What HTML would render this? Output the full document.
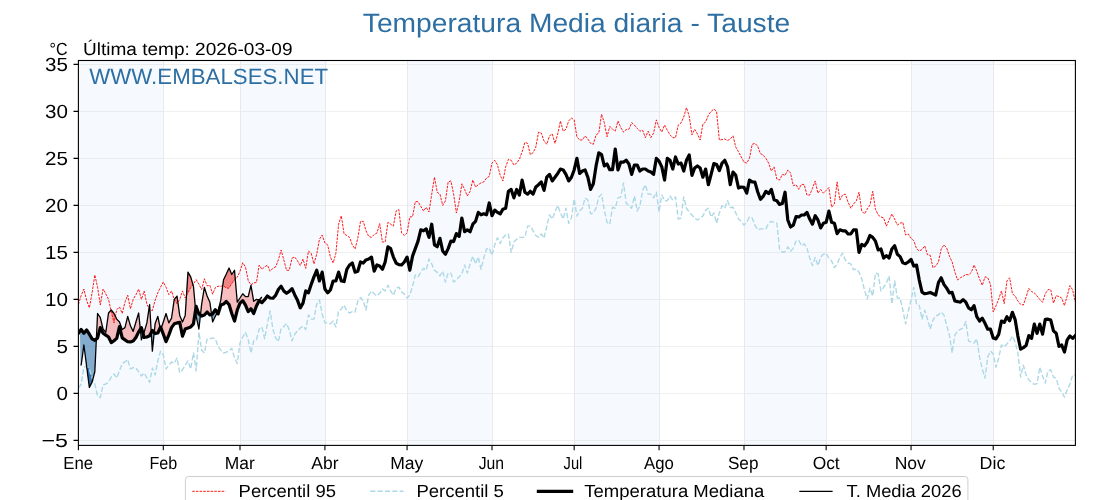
<!DOCTYPE html><html><head><meta charset="utf-8"><title>Temperatura Media diaria - Tauste</title>
<style>html,body{margin:0;padding:0;background:#fff}svg{display:block;will-change:transform}text{font-family:"Liberation Sans",sans-serif;text-rendering:geometricPrecision}</style></head><body>
<svg width="1120" height="500" viewBox="0 0 1120 500">
<rect width="1120" height="500" fill="#fff"/>
<rect x="78.4" y="60.5" width="84.91" height="384.9" fill="#f6fafe"/>
<rect x="240" y="60.5" width="84.91" height="384.9" fill="#f6fafe"/>
<rect x="407.08" y="60.5" width="84.91" height="384.9" fill="#f6fafe"/>
<rect x="574.16" y="60.5" width="84.91" height="384.9" fill="#f6fafe"/>
<rect x="743.98" y="60.5" width="82.17" height="384.9" fill="#f6fafe"/>
<rect x="911.06" y="60.5" width="82.17" height="384.9" fill="#f6fafe"/>
<path d="M78.4,440.5H1075.4 M78.4,393.5H1075.4 M78.4,346.5H1075.4 M78.4,299.5H1075.4 M78.4,252.5H1075.4 M78.4,205.5H1075.4 M78.4,158.5H1075.4 M78.4,111.5H1075.4 M78.4,64.5H1075.4" stroke="#b0b0b0" stroke-opacity="0.19" stroke-width="1" fill="none"/>
<path d="M163.5,60.5V445.4 M240.5,60.5V445.4 M325.5,60.5V445.4 M407.5,60.5V445.4 M492.5,60.5V445.4 M574.5,60.5V445.4 M659.5,60.5V445.4 M744.5,60.5V445.4 M826.5,60.5V445.4 M911.5,60.5V445.4 M993.5,60.5V445.4" stroke="#e7e9ee" stroke-width="1" fill="none"/>
<clipPath id="c"><rect x="78.4" y="60.5" width="997" height="384.9"/></clipPath>
<g clip-path="url(#c)" fill="none" stroke-linejoin="round">
<path d="M96.38,338.97 L97.57,313.5 L100.31,317.54 L103.05,329.01 L105.79,332.3 L108.53,313.03 L111.27,310.02 L114.01,313.5 L116.75,319.14 L119.49,321.96 L122.22,329.48 L124.96,327.6 L127.7,316.32 L130.44,325.72 L133.18,331.36 L135.92,321.96 L138.66,313.03 L140.32,329.27 L140.32,329.27 L138.66,331.83 L135.92,337.47 L133.18,341.04 L130.44,341.98 L127.7,341.7 L124.96,339.82 L122.22,337.94 L119.49,326.66 L116.75,338.41 L114.01,340.76 L111.27,342.64 L108.53,337 L105.79,335.12 L103.05,333.24 L100.31,327.6 L97.57,337.94 L96.38,338.97Z M143.32,334.54 L144.14,332.3 L146.88,322.9 L149.61,304.57 L151.26,332.56 L151.26,332.56 L149.61,335.78 L146.88,337 L144.14,337.47 L143.32,334.54Z M154.22,332.53 L155.09,323.84 L157.83,316.32 L160.16,327.92 L160.16,327.92 L157.83,332.96 L155.09,333.52 L154.22,332.53Z M161.1,328.41 L163.31,321.96 L166.05,313.5 L168.79,322.9 L171.53,318.2 L174.26,299.4 L177,296.11 L179.74,315.38 L182.48,321.96 L185.22,315.38 L187.96,272.14 L190.7,276.84 L193.44,286.24 L195.61,310.07 L195.61,310.07 L193.44,323.84 L190.7,327.04 L187.96,327.98 L185.22,329.01 L182.48,336.06 L179.74,322.43 L177,322.9 L174.26,323.84 L171.53,327.6 L168.79,335.12 L166.05,341.7 L163.31,334.18 L161.1,328.41Z M200.44,315.12 L201.66,304.1 L204.39,287.46 L207.13,296.02 L209.87,302.22 L211.56,314.37 L211.56,314.37 L209.87,315 L207.13,312 L204.39,315 L201.66,316.04 L200.44,315.12Z M217.23,312.64 L218.09,310.96 L220.83,299.96 L223.57,279.66 L226.31,274.02 L229.04,268 L231.78,274.49 L234.52,270.26 L237.26,302.22 L240,297.99 L242.74,293.76 L245.48,296.58 L248.22,296.58 L250.96,285.3 L253.7,301.28 L256.44,299.4 L259.17,299.96 L261.91,296.96 L261.91,302.69 L259.17,300.62 L256.44,305.98 L253.7,313.5 L250.96,308.8 L248.22,311.62 L245.48,305.04 L242.74,300.62 L240,303.16 L237.26,310.02 L234.52,321.02 L231.78,313.5 L229.04,304.57 L226.31,301.47 L223.57,304.1 L220.83,305.04 L218.09,313.97 L217.23,312.64Z" fill="#f08080" fill-opacity="0.5" stroke="none"/>
<path d="M79.91,331.17 L81.14,329.48 L83.88,333.24 L86.62,329.95 L89.36,334.18 L92.09,338.88 L94.83,340.29 L96.38,338.97 L96.38,338.97 L94.83,371.78 L92.09,382.12 L89.36,387.48 L86.62,366.14 L83.88,344.99 L81.14,365.48 L80.59,365.48Z M140.32,329.27 L141.4,327.6 L143.32,334.54 L143.32,334.54 L141.4,339.82 L140.32,329.27Z M151.26,332.56 L152.35,330.42 L154.22,332.53 L154.22,332.53 L152.35,351.1 L151.26,332.56Z M160.16,327.92 L160.57,327.04 L161.1,328.41 L161.1,328.41 L160.57,329.95 L160.16,327.92Z M195.61,310.07 L196.18,306.45 L198.92,313.97 L200.44,315.12 L200.44,315.12 L198.92,329.01 L196.18,316.32 L195.61,310.07Z M211.56,314.37 L212.61,313.97 L215.35,309.74 L217.23,312.64 L217.23,312.64 L215.35,316.32 L212.61,321.96 L211.56,314.37Z" fill="#4682b4" fill-opacity="0.65" stroke="none"/>
<path d="M110.98,310.34 L111.27,310.02 L114.01,313.5 L115.38,316.32 L115.38,316.32 L114.01,322.9 L111.27,311.62 L110.98,310.34Z M149.02,308.52 L149.61,304.57 L149.92,309.85 L149.92,309.85 L149.61,309.74 L149.02,308.52Z M174.26,299.4 L177,296.11 L177.88,302.28 L177.88,302.28 L177,303.63 L174.26,299.4Z M186.47,295.63 L187.96,272.14 L190.7,276.84 L192.95,284.56 L192.95,284.56 L190.7,287.65 L187.96,292.82 L186.47,295.63Z M222.72,285.91 L223.57,279.66 L226.31,274.02 L229.04,268 L231.78,274.49 L234.52,270.26 L235.27,279.02 L235.27,279.02 L234.52,279.66 L231.78,283.42 L229.04,288.12 L226.31,288.12 L223.57,285.77 L222.72,285.91Z" fill="#f08585" stroke="none"/>
<path d="M86.62,366.14 L89.36,368.96 L92.09,377.98 L92.79,379.51 L92.79,379.51 L92.09,382.12 L89.36,387.48 L86.62,366.14Z" fill="#3673ae" stroke="none"/>
<path d="M78.4,304.57 L81.14,295.64 L83.88,289.06 L86.62,300.34 L89.36,307.86 L92.09,292.82 L94.83,274.96 L97.57,287.18 L100.31,305.04 L103.05,289.06 L105.79,293.76 L108.53,299.4 L111.27,311.62 L114.01,322.9 L116.75,309.74 L119.49,306.92 L122.22,313.5 L124.96,302.22 L127.7,295.17 L130.44,308.8 L133.18,299.4 L135.92,294.7 L138.66,289.06 L141.4,299.4 L144.14,290.94 L146.88,304.1 L149.61,309.74 L152.35,310.68 L155.09,300.34 L157.83,292.82 L160.57,287.18 L163.31,282.01 L166.05,287.18 L168.79,294.7 L171.53,290.94 L174.26,299.4 L177,303.63 L179.74,299.4 L182.48,290.94 L185.22,297.99 L187.96,292.82 L190.7,287.65 L193.44,283.89 L196.18,279.66 L198.92,284.36 L201.66,289.53 L204.39,278.72 L207.13,285.77 L209.87,285.3 L212.61,294.23 L215.35,287.65 L218.09,286.24 L220.83,286.24 L223.57,285.77 L226.31,288.12 L229.04,288.12 L231.78,283.42 L234.52,279.66 L237.26,277.31 L240,271.2 L242.74,262.74 L245.48,266.97 L248.22,280.6 L250.96,284.83 L253.7,282.95 L256.44,282.48 L259.17,265.09 L261.91,269.32 L264.65,266.97 L267.39,265.09 L270.13,271.2 L272.87,268.38 L275.61,266.97 L278.35,259.92 L281.09,250.05 L283.82,259.92 L286.56,270.26 L289.3,270.26 L292.04,258.04 L294.78,257.1 L297.52,260.86 L300.26,265.56 L303,258.98 L305.74,268.38 L308.48,250.99 L311.22,253.34 L313.95,263.96 L316.69,254.28 L319.43,239.24 L322.17,235.01 L324.91,243 L327.65,244.88 L330.39,257.1 L333.13,263.02 L335.87,253.34 L338.61,224.2 L341.34,215.74 L344.08,233.98 L346.82,235.48 L349.56,237.36 L352.3,244.88 L355.04,249.02 L357.78,238.3 L360.52,221.38 L363.26,221.38 L366,230.78 L368.73,236.42 L371.47,237.36 L374.21,234.54 L376.95,233.04 L379.69,223.64 L382.43,242.06 L385.17,242.06 L387.91,222.32 L390.65,224.2 L393.38,226.08 L396.12,211.04 L398.86,209.63 L401.6,233.04 L404.34,235.48 L407.08,233.04 L409.82,216.96 L412.56,216.68 L415.3,201.64 L418.04,201.64 L420.77,206.34 L423.51,211.04 L426.25,207.28 L428.99,211.98 L431.73,194.12 L434.47,177.2 L437.21,192.24 L439.95,194.12 L442.69,205.4 L445.43,200.7 L448.16,181.9 L450.9,180.96 L453.64,194.12 L456.38,212.92 L459.12,201.64 L461.86,183.78 L464.6,189.42 L467.34,196 L470.08,191.3 L472.82,180.02 L475.55,186.98 L478.29,184.72 L481.03,182.84 L483.77,181.9 L486.51,178.14 L489.25,176.26 L491.99,163.1 L494.73,160.28 L497.47,164.98 L500.21,175.32 L502.94,180.96 L505.68,166.86 L508.42,159.34 L511.16,160.28 L513.9,164.98 L516.64,163.1 L519.38,159.34 L522.12,151.82 L524.86,142.42 L527.6,143.36 L530.34,154.64 L533.07,152.76 L535.81,147.12 L538.55,132.08 L541.29,133.02 L544.03,141.01 L546.77,144.3 L549.51,135.84 L552.25,133.96 L554.99,143.36 L557.73,133.96 L560.46,120.99 L563.2,131.14 L565.94,129.26 L568.68,120.99 L571.42,117.98 L574.16,119.86 L576.9,136.78 L579.64,139.98 L582.38,139.98 L585.12,135.84 L587.85,139.04 L590.59,143.36 L593.33,144.3 L596.07,134.9 L598.81,133.02 L601.55,114.22 L604.29,122.68 L607.03,136.78 L609.77,126.44 L612.5,129.26 L615.24,131.14 L617.98,120.99 L620.72,127.38 L623.46,132.08 L626.2,129.64 L628.94,129.26 L631.68,122.68 L634.42,125.03 L637.16,128.32 L639.89,131.14 L642.63,130.2 L645.37,137.72 L648.11,131.14 L650.85,137.72 L653.59,133.02 L656.33,119.86 L659.07,127.38 L661.81,132.08 L664.55,125.03 L667.28,130.2 L670.02,134.9 L672.76,137.72 L675.5,137.72 L678.24,125.03 L680.98,122.96 L683.72,117.04 L686.46,107.64 L689.2,116.1 L691.94,134.9 L694.67,129.26 L697.41,133.96 L700.15,139.98 L702.89,124 L705.63,122.02 L708.37,115.16 L711.11,111.4 L713.85,109.05 L716.59,111.4 L719.33,139.98 L722.06,139.6 L724.8,139.04 L727.54,140.54 L730.28,139.04 L733.02,135.84 L735.76,147.12 L738.5,151.82 L741.24,156.99 L743.98,162.16 L746.72,163.1 L749.45,158.4 L752.19,144.3 L754.93,143.36 L757.67,146.18 L760.41,153.7 L763.15,155.02 L765.89,158.4 L768.63,163.1 L771.37,171 L774.11,166.86 L776.84,179.08 L779.58,180.02 L782.32,174.38 L785.06,175.32 L787.8,169.96 L790.54,172.97 L793.28,185.66 L796.02,184.72 L798.76,189.42 L801.5,184.25 L804.23,184.72 L806.97,195.06 L809.71,195.06 L812.45,188.48 L815.19,180.96 L817.93,193.18 L820.67,189.42 L823.41,193.18 L826.15,190.36 L828.89,187.54 L831.62,207.28 L834.36,203.99 L837.1,181.9 L839.84,200.04 L842.58,195.06 L845.32,194.12 L848.06,202.02 L850.8,208.22 L853.54,203.99 L856.28,200.98 L859.01,192.24 L861.75,211.04 L864.49,213.86 L867.23,209.16 L869.97,205.02 L872.71,191.3 L875.45,209.16 L878.19,214.99 L880.93,216.96 L883.67,218 L886.4,226.08 L889.14,219.97 L891.88,213.86 L894.62,219.03 L897.36,225.14 L900.1,223.26 L902.84,222.32 L905.58,235.01 L908.32,233.98 L911.06,238.3 L913.79,240.65 L916.53,248.64 L919.27,250.99 L922.01,249.58 L924.75,245.82 L927.49,254.75 L930.23,255.22 L932.97,267.72 L935.71,266.03 L938.45,261.99 L941.18,249.02 L943.92,244.88 L946.66,247.98 L949.4,256.16 L952.14,261.99 L954.88,272.14 L957.62,280.04 L960.36,277.78 L963.1,276.37 L965.84,274.4 L968.57,274.96 L971.31,272.42 L974.05,265 L976.79,271.2 L979.53,279 L982.27,285.3 L985.01,276.84 L987.75,277.78 L990.49,284.36 L993.23,312 L995.96,305.98 L998.7,299.02 L1001.44,290.94 L1004.18,303.63 L1006.92,280.98 L1009.66,277.78 L1012.4,293.76 L1015.14,296.02 L1017.88,301 L1020.62,304.38 L1023.35,305.04 L1026.09,296.96 L1028.83,288.4 L1031.57,291.6 L1034.31,292.82 L1037.05,296.02 L1039.79,299.59 L1042.53,302.22 L1045.27,293.76 L1048.01,289.62 L1050.74,289.62 L1053.48,303.16 L1056.22,295.64 L1058.96,296.58 L1061.7,297.99 L1064.44,305.6 L1067.18,296.02 L1069.92,285.58 L1072.66,290 L1075.4,302.22" stroke="#ff0000" stroke-width="0.9" stroke-dasharray="2.57 1.11"/>
<path d="M78.4,388.04 L81.14,384 L83.88,367.08 L86.62,366.14 L89.36,368.96 L92.09,377.98 L94.83,384 L97.57,396.03 L100.31,397.63 L103.05,384.94 L105.79,384 L108.53,382.12 L111.27,377.04 L114.01,374.04 L116.75,377.98 L119.49,370.84 L122.22,363.32 L124.96,362 L127.7,359.56 L130.44,368.96 L133.18,367.64 L135.92,368.02 L138.66,371.97 L141.4,376.01 L144.14,373 L146.88,377.98 L149.61,382.4 L152.35,368.02 L155.09,374.98 L157.83,360.97 L160.57,351.1 L163.31,354.86 L166.05,368.96 L168.79,365.2 L171.53,362 L174.26,363.32 L177,357.96 L179.74,372.72 L182.48,369.9 L185.22,365.2 L187.96,360.97 L190.7,368.96 L193.44,352.98 L196.18,370.84 L198.92,332.3 L201.66,350.16 L204.39,352.98 L207.13,338.88 L209.87,338.88 L212.61,337.94 L215.35,338.88 L218.09,346.4 L220.83,350.16 L223.57,352.98 L226.31,352.04 L229.04,351.1 L231.78,348.28 L234.52,357.96 L237.26,363.32 L240,343.02 L242.74,337 L245.48,332.3 L248.22,339.82 L250.96,352.98 L253.7,340.76 L256.44,339.82 L259.17,329.01 L261.91,327.04 L264.65,338.88 L267.39,323.84 L270.13,310.96 L272.87,329.01 L275.61,337.94 L278.35,341.7 L281.09,328.54 L283.82,326.66 L286.56,323.37 L289.3,329.95 L292.04,340.76 L294.78,334.18 L297.52,330.98 L300.26,327.98 L303,326 L305.74,329.48 L308.48,315 L311.22,319.14 L313.95,319.14 L316.69,304.1 L319.43,299.96 L322.17,313.97 L324.91,322.9 L327.65,322.9 L330.39,323.84 L333.13,321.02 L335.87,327.04 L338.61,310.96 L341.34,308.99 L344.08,305.04 L346.82,310.96 L349.56,313.03 L352.3,311.62 L355.04,312 L357.78,301.28 L360.52,297.52 L363.26,301 L366,310.02 L368.73,295.17 L371.47,290.94 L374.21,293.76 L376.95,296.02 L379.69,293.29 L382.43,289.06 L385.17,290.94 L387.91,285.3 L390.65,290.94 L393.38,295.36 L396.12,288.31 L398.86,287.18 L401.6,291.88 L404.34,294.04 L407.08,297.99 L409.82,294.98 L412.56,286.24 L415.3,274.96 L418.04,276.84 L420.77,272.14 L423.51,268.38 L426.25,270.26 L428.99,258.98 L431.73,263.96 L434.47,270.26 L437.21,272.42 L439.95,275.9 L442.69,271.2 L445.43,282.01 L448.16,273.08 L450.9,273.08 L453.64,282.01 L456.38,280.04 L459.12,276.84 L461.86,274.02 L464.6,265 L467.34,273.08 L470.08,263.96 L472.82,256.16 L475.55,263.96 L478.29,257.1 L481.03,269.32 L483.77,258.04 L486.51,249.02 L489.25,247.98 L491.99,255.22 L494.73,244.88 L497.47,237.83 L500.21,243.47 L502.94,237.83 L505.68,235.01 L508.42,233.98 L511.16,252.4 L513.9,242.06 L516.64,239.24 L519.38,237.36 L522.12,237.36 L524.86,237.36 L527.6,226.08 L530.34,226.08 L533.07,230.78 L535.81,235.48 L538.55,237.36 L541.29,233.98 L544.03,238.3 L546.77,226.08 L549.51,214.99 L552.25,219.03 L554.99,211.98 L557.73,205.4 L560.46,212.92 L563.2,219.03 L565.94,208.22 L568.68,223.26 L571.42,218 L574.16,198.82 L576.9,216.02 L579.64,211.04 L582.38,208.22 L585.12,197.88 L587.85,200.04 L590.59,213.86 L593.33,212.92 L596.07,208.22 L598.81,196.94 L601.55,194.12 L604.29,210.1 L607.03,222.32 L609.77,224.2 L612.5,207.28 L615.24,208.22 L617.98,197.88 L620.72,196.94 L623.46,182.84 L626.2,202.96 L628.94,205.96 L631.68,208.22 L634.42,196 L637.16,211.04 L639.89,205.96 L642.63,190.36 L645.37,184.72 L648.11,194.12 L650.85,194.12 L653.59,197.88 L656.33,192.24 L659.07,211.98 L661.81,195.06 L664.55,200.7 L667.28,200.7 L670.02,196 L672.76,200.04 L675.5,196.94 L678.24,219.03 L680.98,218 L683.72,196.94 L686.46,208.22 L689.2,211.98 L691.94,214.99 L694.67,218 L697.41,219.97 L700.15,218 L702.89,216.02 L705.63,210.1 L708.37,208.22 L711.11,216.96 L713.85,212.92 L716.59,223.26 L719.33,212.92 L722.06,205.59 L724.8,208.22 L727.54,200.7 L730.28,207.56 L733.02,207.28 L735.76,212.92 L738.5,219.03 L741.24,221.38 L743.98,225.14 L746.72,222.32 L749.45,216.96 L752.19,218 L754.93,225.14 L757.67,229.84 L760.41,228.9 L763.15,228.9 L765.89,228.9 L768.63,223.26 L771.37,221.38 L774.11,222.32 L776.84,223.26 L779.58,249.02 L782.32,252.21 L785.06,251.74 L787.8,246.95 L790.54,251.27 L793.28,248.36 L796.02,241.12 L798.76,240.18 L801.5,245.82 L804.23,243.94 L806.97,247.98 L809.71,258.04 L812.45,265.56 L815.19,257.57 L817.93,265.56 L820.67,257.1 L823.41,254.28 L826.15,253.15 L828.89,258.23 L831.62,260.86 L834.36,267.72 L837.1,263.96 L839.84,257.57 L842.58,253.15 L845.32,259.92 L848.06,263.02 L850.8,263.96 L853.54,269.79 L856.28,268.85 L859.01,272.14 L861.75,278.72 L864.49,290 L867.23,299.02 L869.97,288.12 L872.71,296.02 L875.45,273.08 L878.19,274.02 L880.93,290.94 L883.67,287.18 L886.4,283.04 L889.14,275.9 L891.88,304.1 L894.62,280.98 L897.36,297.99 L900.1,297.99 L902.84,310.02 L905.58,323.84 L908.32,310.96 L911.06,299.96 L913.79,287.37 L916.53,304.1 L919.27,305.32 L922.01,319.14 L924.75,310.21 L927.49,319.14 L930.23,329.2 L932.97,320.08 L935.71,315.85 L938.45,315 L941.18,312 L943.92,315 L946.66,325.25 L949.4,335.12 L952.14,352.98 L954.88,335.12 L957.62,330.98 L960.36,329.48 L963.1,327.98 L965.84,321.58 L968.57,341.04 L971.31,341.98 L974.05,343.02 L976.79,338.88 L979.53,357.02 L982.27,368.96 L985.01,377.98 L987.75,357.02 L990.49,351.1 L993.23,353.92 L995.96,367.08 L998.7,357.96 L1001.44,344.99 L1004.18,346.96 L1006.92,343.96 L1009.66,341.04 L1012.4,336.06 L1015.14,341.98 L1017.88,352.98 L1020.62,377.04 L1023.35,365.2 L1026.09,374.98 L1028.83,379.96 L1031.57,382.4 L1034.31,384.38 L1037.05,383.62 L1039.79,367.08 L1042.53,376.01 L1045.27,383.06 L1048.01,370.84 L1050.74,369.9 L1053.48,377.04 L1056.22,378.36 L1058.96,388.04 L1061.7,391.99 L1064.44,397.16 L1067.18,390.02 L1069.92,384 L1072.66,374.98 L1075.4,374.6" stroke="#add8e6" stroke-width="1.39" stroke-dasharray="5.14 2.22"/>
<path d="M78.4,333.24 L81.14,329.48 L83.88,333.24 L86.62,329.95 L89.36,334.18 L92.09,338.88 L94.83,340.29 L97.57,337.94 L100.31,327.6 L103.05,333.24 L105.79,335.12 L108.53,337 L111.27,342.64 L114.01,340.76 L116.75,338.41 L119.49,326.66 L122.22,337.94 L124.96,339.82 L127.7,341.7 L130.44,341.98 L133.18,341.04 L135.92,337.47 L138.66,331.83 L141.4,327.6 L144.14,337.47 L146.88,337 L149.61,335.78 L152.35,330.42 L155.09,333.52 L157.83,332.96 L160.57,327.04 L163.31,334.18 L166.05,341.7 L168.79,335.12 L171.53,327.6 L174.26,323.84 L177,322.9 L179.74,322.43 L182.48,336.06 L185.22,329.01 L187.96,327.98 L190.7,327.04 L193.44,323.84 L196.18,306.45 L198.92,313.97 L201.66,316.04 L204.39,315 L207.13,312 L209.87,315 L212.61,313.97 L215.35,309.74 L218.09,313.97 L220.83,305.04 L223.57,304.1 L226.31,301.47 L229.04,304.57 L231.78,313.5 L234.52,321.02 L237.26,310.02 L240,303.16 L242.74,300.62 L245.48,305.04 L248.22,311.62 L250.96,308.8 L253.7,313.5 L256.44,305.98 L259.17,300.62 L261.91,302.69 L264.65,299.68 L267.39,296.02 L270.13,297.99 L272.87,298.27 L275.61,295.45 L278.35,289.53 L281.09,286.24 L283.82,290.94 L286.56,293.29 L289.3,291.41 L292.04,288.59 L294.78,294.98 L297.52,300.34 L300.26,307.86 L303,303.16 L305.74,290.94 L308.48,292.82 L311.22,284.36 L313.95,276.84 L316.69,270.26 L319.43,280.98 L322.17,272.14 L324.91,289.06 L327.65,292.82 L330.39,290 L333.13,280.98 L335.87,280.98 L338.61,272.14 L341.34,280.98 L344.08,281.54 L346.82,269.32 L349.56,265 L352.3,263.02 L355.04,272.14 L357.78,271.2 L360.52,261.99 L363.26,263.02 L366,259.92 L368.73,258.98 L371.47,257.1 L374.21,271.2 L376.95,265 L379.69,266.03 L382.43,269.32 L385.17,261.99 L387.91,246.76 L390.65,248.64 L393.38,257.1 L396.12,263.02 L398.86,264.62 L401.6,265 L404.34,261.99 L407.08,257.1 L409.82,270.26 L412.56,256.16 L415.3,248.64 L418.04,241.12 L420.77,229.84 L423.51,230.78 L426.25,228.9 L428.99,237.36 L431.73,224.2 L434.47,244.88 L437.21,246.76 L439.95,238.3 L442.69,250.99 L445.43,254.28 L448.16,248.64 L450.9,241.12 L453.64,241.59 L456.38,233.6 L459.12,236.42 L461.86,218 L464.6,231.72 L467.34,229.84 L470.08,231.72 L472.82,224.2 L475.55,221.38 L478.29,212.36 L481.03,214.8 L483.77,213.86 L486.51,214.8 L489.25,202.96 L491.99,215.74 L494.73,210.1 L497.47,212.36 L500.21,213.86 L502.94,209.16 L505.68,208.22 L508.42,191.3 L511.16,189.42 L513.9,197.88 L516.64,189.42 L519.38,195.06 L522.12,180.02 L524.86,192.24 L527.6,194.12 L530.34,191.3 L533.07,194.12 L535.81,186.98 L538.55,184.72 L541.29,181.9 L544.03,190.36 L546.77,177.2 L549.51,174.38 L552.25,180.96 L554.99,177.2 L557.73,173.44 L560.46,169.02 L563.2,169.96 L565.94,174.38 L568.68,180.96 L571.42,177.2 L574.16,169.96 L576.9,158.4 L579.64,173.44 L582.38,171 L585.12,169.96 L587.85,177.2 L590.59,189.42 L593.33,183.78 L596.07,165.92 L598.81,152.76 L601.55,154.64 L604.29,165.92 L607.03,164.04 L609.77,169.68 L612.5,169.68 L615.24,149 L617.98,169.96 L620.72,162.16 L623.46,162.16 L626.2,160.28 L628.94,164.04 L631.68,174.38 L634.42,164.98 L637.16,164.98 L639.89,171 L642.63,169.02 L645.37,169.02 L648.11,171 L650.85,172.03 L653.59,174.38 L656.33,158.4 L659.07,161.22 L661.81,166.86 L664.55,180.02 L667.28,158.4 L670.02,160.28 L672.76,169.02 L675.5,156.99 L678.24,164.04 L680.98,163.1 L683.72,171 L686.46,160.28 L689.2,155.02 L691.94,175.32 L694.67,167.99 L697.41,165.92 L700.15,167.99 L702.89,177.2 L705.63,169.02 L708.37,184.72 L711.11,174.38 L713.85,163.57 L716.59,164.51 L719.33,170.62 L722.06,163.1 L724.8,160.28 L727.54,166.86 L730.28,184.72 L733.02,172.03 L735.76,175.32 L738.5,188.01 L741.24,186.98 L743.98,187.26 L746.72,193.18 L749.45,180.02 L752.19,181.9 L754.93,182.18 L757.67,191.77 L760.41,199.29 L763.15,196.47 L765.89,191.3 L768.63,193.65 L771.37,189.42 L774.11,199.76 L776.84,200.7 L779.58,204.46 L782.32,203.52 L785.06,192.24 L787.8,219.97 L790.54,227.02 L793.28,225.14 L796.02,216.68 L798.76,216.96 L801.5,214.99 L804.23,214.99 L806.97,212.36 L809.71,219.03 L812.45,224.2 L815.19,215.74 L817.93,219.97 L820.67,227.96 L823.41,223.26 L826.15,222.32 L828.89,211.04 L831.62,222.32 L834.36,223.26 L837.1,233.6 L839.84,229.84 L842.58,230.78 L845.32,230.78 L848.06,233.98 L850.8,233.98 L853.54,229.84 L856.28,229.84 L859.01,252.4 L861.75,244.41 L864.49,245.82 L867.23,242.06 L869.97,235.48 L872.71,237.36 L875.45,241.12 L878.19,249.96 L880.93,249.02 L883.67,258.04 L886.4,255.6 L889.14,258.04 L891.88,249.02 L894.62,245.82 L897.36,254.28 L900.1,256.63 L902.84,262.74 L905.58,263.68 L908.32,261.99 L911.06,259.45 L913.79,266.03 L916.53,265.09 L919.27,280.04 L922.01,292.16 L924.75,293.76 L927.49,293.29 L930.23,292.44 L932.97,293.76 L935.71,294.98 L938.45,282.48 L941.18,277.78 L943.92,284.36 L946.66,288.12 L949.4,292.82 L952.14,292.44 L954.88,301 L957.62,301.56 L960.36,302.22 L963.1,299.59 L965.84,302.22 L968.57,307.86 L971.31,309.74 L974.05,305.6 L976.79,316.6 L979.53,321.02 L982.27,318.2 L985.01,323.37 L987.75,329.2 L990.49,329.2 L993.23,337.94 L995.96,338.88 L998.7,334.37 L1001.44,321.02 L1004.18,322.43 L1006.92,316.79 L1009.66,320.74 L1012.4,312.28 L1015.14,319.61 L1017.88,336.06 L1020.62,349.22 L1023.35,347.62 L1026.09,345.46 L1028.83,335.59 L1031.57,338.41 L1034.31,324.12 L1037.05,333.24 L1039.79,324.12 L1042.53,334.18 L1045.27,319.42 L1048.01,319.14 L1050.74,320.08 L1053.48,330.89 L1056.22,333.24 L1058.96,346.4 L1061.7,344.99 L1064.44,352.04 L1067.18,339.82 L1069.92,336.06 L1072.66,338.41 L1075.4,335.59" stroke="#000" stroke-width="3.2" stroke-linecap="square"/>
<path d="M81.14,365.48 L83.88,344.99 L86.62,366.14 L89.36,387.48 L92.09,382.12 L94.83,371.78 L97.57,313.5 L100.31,317.54 L103.05,329.01 L105.79,332.3 L108.53,313.03 L111.27,310.02 L114.01,313.5 L116.75,319.14 L119.49,321.96 L122.22,329.48 L124.96,327.6 L127.7,316.32 L130.44,325.72 L133.18,331.36 L135.92,321.96 L138.66,313.03 L141.4,339.82 L144.14,332.3 L146.88,322.9 L149.61,304.57 L152.35,351.1 L155.09,323.84 L157.83,316.32 L160.57,329.95 L163.31,321.96 L166.05,313.5 L168.79,322.9 L171.53,318.2 L174.26,299.4 L177,296.11 L179.74,315.38 L182.48,321.96 L185.22,315.38 L187.96,272.14 L190.7,276.84 L193.44,286.24 L196.18,316.32 L198.92,329.01 L201.66,304.1 L204.39,287.46 L207.13,296.02 L209.87,302.22 L212.61,321.96 L215.35,316.32 L218.09,310.96 L220.83,299.96 L223.57,279.66 L226.31,274.02 L229.04,268 L231.78,274.49 L234.52,270.26 L237.26,302.22 L240,297.99 L242.74,293.76 L245.48,296.58 L248.22,296.58 L250.96,285.3 L253.7,301.28 L256.44,299.4 L259.17,299.96 L261.91,296.96" stroke="#000" stroke-width="1.3"/>
</g>
<rect x="78.4" y="60.5" width="997" height="384.9" fill="none" stroke="#000" stroke-width="1.1"/>
<path d="M73.5,440.4H78.4 M73.5,393.4H78.4 M73.5,346.4H78.4 M73.5,299.4H78.4 M73.5,252.4H78.4 M73.5,205.4H78.4 M73.5,158.4H78.4 M73.5,111.4H78.4 M73.5,64.4H78.4 M78.4,445.4V450.3 M163.31,445.4V450.3 M240,445.4V450.3 M324.91,445.4V450.3 M407.08,445.4V450.3 M491.99,445.4V450.3 M574.16,445.4V450.3 M659.07,445.4V450.3 M743.98,445.4V450.3 M826.15,445.4V450.3 M911.06,445.4V450.3 M993.23,445.4V450.3" stroke="#000" stroke-width="1.1" fill="none"/>
<text x="67.9" y="447" font-size="19" text-anchor="end" textLength="26.5" lengthAdjust="spacingAndGlyphs">−5</text>
<text x="67.9" y="400" font-size="19" text-anchor="end" textLength="11.45" lengthAdjust="spacingAndGlyphs">0</text>
<text x="67.9" y="353" font-size="19" text-anchor="end" textLength="11.45" lengthAdjust="spacingAndGlyphs">5</text>
<text x="67.9" y="306" font-size="19" text-anchor="end" textLength="22.9" lengthAdjust="spacingAndGlyphs">10</text>
<text x="67.9" y="259" font-size="19" text-anchor="end" textLength="22.9" lengthAdjust="spacingAndGlyphs">15</text>
<text x="67.9" y="212" font-size="19" text-anchor="end" textLength="22.9" lengthAdjust="spacingAndGlyphs">20</text>
<text x="67.9" y="165" font-size="19" text-anchor="end" textLength="22.9" lengthAdjust="spacingAndGlyphs">25</text>
<text x="67.9" y="118" font-size="19" text-anchor="end" textLength="22.9" lengthAdjust="spacingAndGlyphs">30</text>
<text x="67.9" y="71" font-size="19" text-anchor="end" textLength="22.9" lengthAdjust="spacingAndGlyphs">35</text>
<text x="78.2" y="468.7" font-size="17.6" text-anchor="middle" textLength="29.8" lengthAdjust="spacingAndGlyphs">Ene</text>
<text x="163.31" y="468.7" font-size="17.6" text-anchor="middle" textLength="27.8" lengthAdjust="spacingAndGlyphs">Feb</text>
<text x="239.7" y="468.7" font-size="17.6" text-anchor="middle" textLength="30.0" lengthAdjust="spacingAndGlyphs">Mar</text>
<text x="324.91" y="468.7" font-size="17.6" text-anchor="middle" textLength="27.2" lengthAdjust="spacingAndGlyphs">Abr</text>
<text x="406.78" y="468.7" font-size="17.6" text-anchor="middle" textLength="33.2" lengthAdjust="spacingAndGlyphs">May</text>
<text x="491.39" y="468.7" font-size="17.6" text-anchor="middle" textLength="25.4" lengthAdjust="spacingAndGlyphs">Jun</text>
<text x="572.96" y="468.7" font-size="17.6" text-anchor="middle" textLength="18.8" lengthAdjust="spacingAndGlyphs">Jul</text>
<text x="658.87" y="468.7" font-size="17.6" text-anchor="middle" textLength="29.8" lengthAdjust="spacingAndGlyphs">Ago</text>
<text x="743.18" y="468.7" font-size="17.6" text-anchor="middle" textLength="30.5" lengthAdjust="spacingAndGlyphs">Sep</text>
<text x="826.15" y="468.7" font-size="17.6" text-anchor="middle" textLength="27.0" lengthAdjust="spacingAndGlyphs">Oct</text>
<text x="910.26" y="468.7" font-size="17.6" text-anchor="middle" textLength="31.2" lengthAdjust="spacingAndGlyphs">Nov</text>
<text x="992.43" y="468.7" font-size="17.6" text-anchor="middle" textLength="25.8" lengthAdjust="spacingAndGlyphs">Dic</text>
<text x="362.8" y="32.1" font-size="26.4" fill="#2e6fa3" textLength="427.4" lengthAdjust="spacingAndGlyphs">Temperatura Media diaria - Tauste</text>
<text x="49.5" y="54.9" font-size="17.6" textLength="18" lengthAdjust="spacingAndGlyphs">°C</text>
<text x="83" y="54.9" font-size="17.6" textLength="209.5" lengthAdjust="spacingAndGlyphs">Última temp: 2026-03-09</text>
<text x="89.3" y="83.6" font-size="22" fill="#2e6fa3" textLength="238.8" lengthAdjust="spacingAndGlyphs">WWW.EMBALSES.NET</text>
<rect x="185.4" y="476.5" width="782.5" height="40" rx="3" ry="3" fill="#fff" stroke="#cfcfcf" stroke-width="1"/>
<path d="M192.2,491.3H225.5" stroke="#ff0000" stroke-width="0.9" stroke-dasharray="2.57 1.11" fill="none"/>
<text x="238.6" y="496.5" font-size="17.6" textLength="97.3" lengthAdjust="spacingAndGlyphs">Percentil 95</text>
<path d="M370.2,491.3H403.5" stroke="#add8e6" stroke-width="1.39" stroke-dasharray="5.14 2.22" fill="none"/>
<text x="416.4" y="496.5" font-size="17.6" textLength="87.5" lengthAdjust="spacingAndGlyphs">Percentil 5</text>
<path d="M538.4,491.35H571.6" stroke="#000" stroke-width="3.2" stroke-linecap="square" fill="none"/>
<text x="584.3" y="496.5" font-size="17.6" textLength="180" lengthAdjust="spacingAndGlyphs">Temperatura Mediana</text>
<path d="M799.3,491.3H832.6" stroke="#000" stroke-width="1.3" fill="none"/>
<text x="846.6" y="496.5" font-size="17.6" textLength="115" lengthAdjust="spacingAndGlyphs">T. Media 2026</text>
</svg></body></html>
